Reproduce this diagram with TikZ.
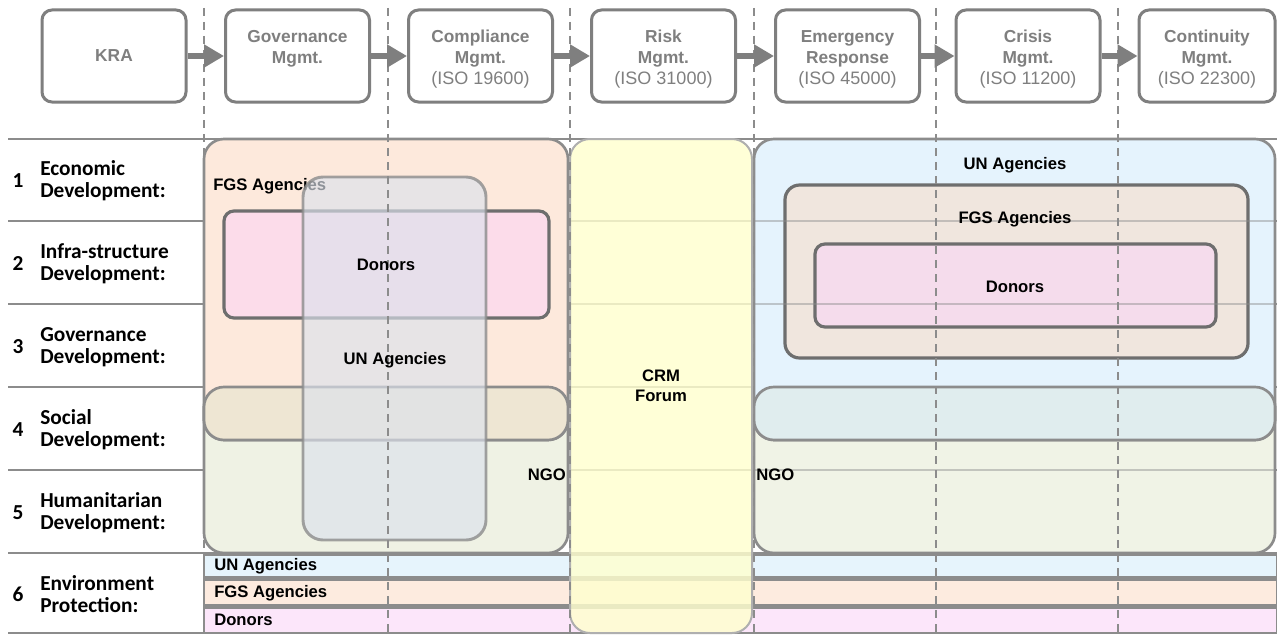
\documentclass[tikz,border=0pt]{standalone}
\usepackage{fontspec}
\setmainfont{Liberation Sans}
\newfontfamily\rowfont{Carlito}
\usetikzlibrary{arrows.meta}
\definecolor{frame}{HTML}{7F7F7F}
\definecolor{dark}{HTML}{6E6E6E}
\definecolor{gridc}{HTML}{8C8C8C}
\definecolor{peach}{HTML}{FDE9DC}
\definecolor{ngogreen}{HTML}{EFF2E4}
\definecolor{tan}{HTML}{EEE6D3}
\definecolor{ungray}{HTML}{DCE2EC}
\definecolor{pinkL}{HTML}{FCDCEA}
\definecolor{crmyellow}{HTML}{FFFFCF}
\definecolor{blueR}{HTML}{E5F3FD}
\definecolor{fgsR}{HTML}{F0E6DE}
\definecolor{pinkR}{HTML}{F5DCEC}
\definecolor{bandR}{HTML}{E0EDEE}
\definecolor{ngoR}{HTML}{F0F3E6}
\definecolor{stripBlue}{HTML}{E6F4FC}
\definecolor{stripPeach}{HTML}{FDEBDF}
\definecolor{stripPink}{HTML}{FCE6FA}
\tikzset{
  topbox/.style={draw=frame, line width=2.25pt, rounded corners=7.5pt, fill=white,
    minimum width=108pt, minimum height=69pt, text=frame, align=center,
    font=\fontsize{13}{15.75}\selectfont\bfseries},
  flow/.style={draw=frame, line width=4.5pt, -{Triangle[length=15pt,width=16.5pt]}},
  rowline/.style={draw=gridc, line width=1.5pt},
  bigbox/.style={draw=gridc, line width=2pt, rounded corners=15pt},
  donorbox/.style={draw=dark, line width=2.4pt, rounded corners=7.5pt},
  strip/.style={draw=gridc, line width=2.2pt},
  lane/.style={draw=gridc, line width=1pt, dash pattern=on 6pt off 4.5pt},
  lbl/.style={font=\fontsize{12.5}{15}\selectfont\bfseries, text=black, inner sep=0pt},
  rowlbl/.style={font=\rowfont\bfseries\fontsize{16}{16.5}\selectfont, align=left, anchor=west, inner sep=0pt},
  rownum/.style={font=\rowfont\bfseries\fontsize{16}{16.5}\selectfont, inner sep=0pt}
}
\newcommand{\iso}[1]{{\mdseries\fontsize{13.5}{15.75}\selectfont #1}}
\newcommand{\dn}{\rule{0pt}{14pt}}
\begin{document}
\begin{tikzpicture}[x=0.75pt,y=-0.75pt]
\useasboundingbox[fill=white] (0,0) rectangle (1277,635);

% row lines
\foreach \yy in {139,221,304,387,470,553,633}
  \draw[rowline] (8,\yy) -- (1277,\yy);

% ---------- left block ----------
\draw[bigbox, fill=ngogreen] (204,387) rectangle (568,553);
\draw[bigbox, fill=peach] (204,139) rectangle (568,440);
\draw[bigbox, fill=tan] (204,387) rectangle (568,440);
\draw[donorbox, fill=pinkL] (224,211) rectangle (549,318);
\node[lbl, anchor=west] (fgsL) at (213,186) {FGS Agencies};
\draw[draw=gridc, draw opacity=0.8, line width=2.2pt, rounded corners=15pt,
      fill=ungray, fill opacity=0.65] (303,177) rectangle (486,540);

% ---------- bottom strips ----------
\draw[strip, fill=stripBlue] (204,555) rectangle (1277,578);
\draw[strip, fill=stripPeach] (204,579) rectangle (1277,606);
\draw[strip, fill=stripPink] (204,607) rectangle (1277,633);
\draw[gridc, line width=3.5pt] (204,578.5) -- (1277,578.5);
\draw[gridc, line width=3.5pt] (204,606.5) -- (1277,606.5);

% ---------- right block ----------
\draw[bigbox, fill=ngoR] (754,387) rectangle (1275,553);
\draw[bigbox, fill=blueR] (754,139) rectangle (1275,440);
\draw[bigbox, fill=bandR] (754,387) rectangle (1275,440);
\draw[donorbox, fill=fgsR, rounded corners=11pt] (785,185) rectangle (1248,358);
\draw[donorbox, fill=pinkR] (815,244) rectangle (1216,327);
% row lines seen through the right boxes
\foreach \yy in {221,304,470}
  \draw[gridc, line width=1.2pt, opacity=0.45] (754,\yy) -- (1277,\yy);

% ---------- CRM forum ----------
\draw[draw=gridc!70, line width=1.5pt, rounded corners=15pt,
      fill=crmyellow, fill opacity=0.82] (570,139) rectangle (752,633);

% ---------- lanes ----------
\foreach \xx in {204,388,570,754,936,1118}
  \draw[lane] (\xx,8) -- (\xx,635);

% ---------- top process boxes ----------
\node[topbox] (kra)  at (114,56) {KRA};
\node[topbox] (gov)  at (297.5,56) {\dn Governance\\Mgmt.\\\phantom{(ISO)}};
\node[topbox] (comp) at (480.5,56) {\dn Compliance\\Mgmt.\\\iso{(ISO 19600)}};
\node[topbox] (risk) at (663.5,56) {\dn Risk\\Mgmt.\\\iso{(ISO 31000)}};
\node[topbox] (emer) at (847.5,56) {\dn Emergency\\Response\\\iso{(ISO 45000)}};
\node[topbox] (cris) at (1028,56) {\dn Crisis\\Mgmt.\\\iso{(ISO 11200)}};
\node[topbox, minimum width=102pt] (cont) at (1207,56) {\dn Continuity\\Mgmt.\\\iso{(ISO 22300)}};
\draw[flow] (kra) -- (gov);
\draw[flow] (gov) -- (comp);
\draw[flow] (comp) -- (risk);
\draw[flow] (risk) -- (emer);
\draw[flow] (emer) -- (cris);
\draw[flow] (cris) -- (cont);

% ---------- labels ----------
\node[lbl] (donL) at (386,265) {Donors};
\node[lbl] (unL) at (395,360) {UN Agencies};
\node[lbl, anchor=east] (ngoL) at (566,475) {NGO};
\node[lbl, align=center] (crm) at (661,386) {CRM\\Forum};
\node[lbl, anchor=west] (ngoR) at (756,475) {NGO};
\node[lbl] (unR) at (1015,165) {UN Agencies};
\node[lbl] (fgsR) at (1015,219) {FGS Agencies};
\node[lbl] (donR) at (1015,287) {Donors};
\node[lbl, anchor=west] (unS) at (214,566) {UN Agencies};
\node[lbl, anchor=west] (fgsS) at (214,593) {FGS Agencies};
\node[lbl, anchor=west] (donS) at (214,620) {Donors};

% ---------- row headings ----------
\node[rownum] (n1) at (18,181) {1};
\node[rowlbl] (r1) at (40,181) {Economic\\Development:};
\node[rownum] (n2) at (18,264) {2};
\node[rowlbl] (r2) at (40,264) {Infra-structure\\Development:};
\node[rownum] (n3) at (18,347) {3};
\node[rowlbl] (r3) at (40,347) {Governance\\Development:};
\node[rownum] (n4) at (18,430) {4};
\node[rowlbl] (r4) at (40,430) {Social\\Development:};
\node[rownum] (n5) at (18,513) {5};
\node[rowlbl] (r5) at (40,513) {Humanitarian\\Development:};
\node[rownum] (n6) at (18,594) {6};
\node[rowlbl] (r6) at (40,594) {Environment\\Protection:};
\end{tikzpicture}
\end{document}
